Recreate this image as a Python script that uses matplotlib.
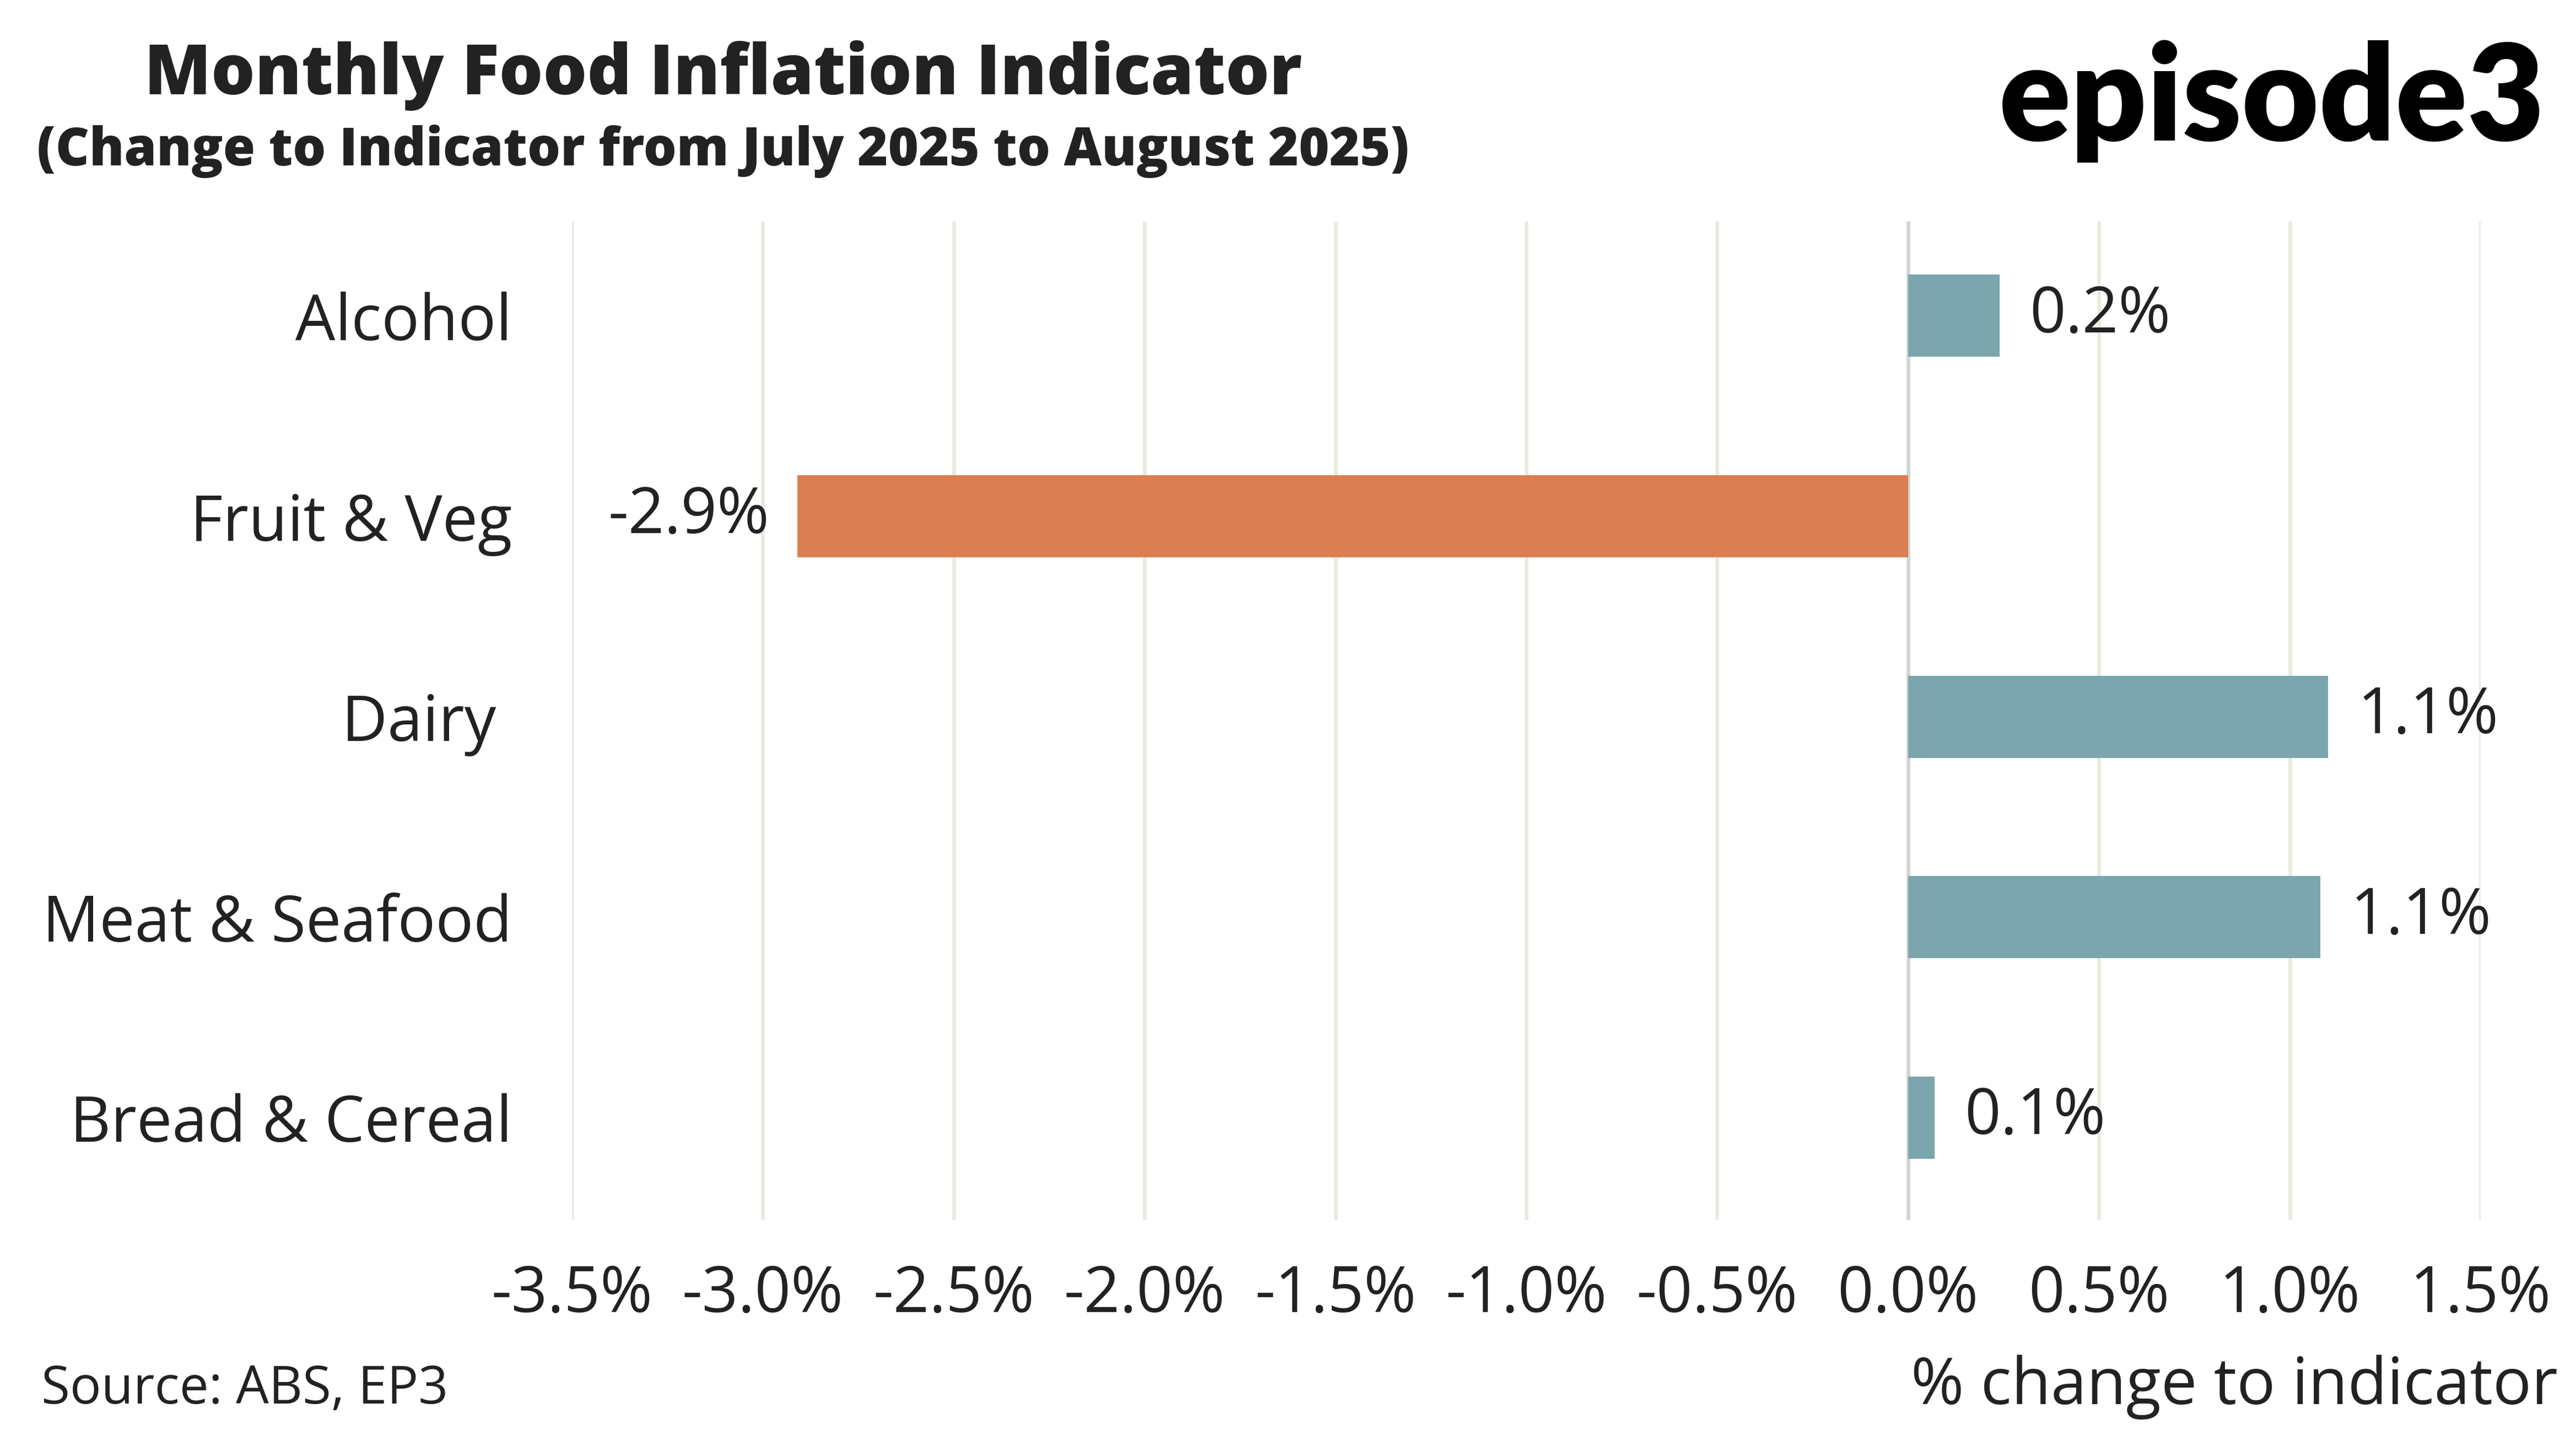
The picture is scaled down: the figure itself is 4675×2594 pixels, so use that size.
import matplotlib
matplotlib.use("Agg")
import matplotlib.pyplot as plt
import numpy as np

categories = ["Alcohol", "Fruit & Veg", "Dairy ", "Meat & Seafood", "Bread & Cereal"]
values = [0.24, -2.91, 1.10, 1.08, 0.07]
value_labels = ["0.2%", "-2.9%", "1.1%", "1.1%", "0.1%"]
xticks = [-3.5, -3.0, -2.5, -2.0, -1.5, -1.0, -0.5, 0.0, 0.5, 1.0, 1.5]
xtick_labels = ["-3.5%", "-3.0%", "-2.5%", "-2.0%", "-1.5%", "-1.0%", "-0.5%",
                "0.0%", "0.5%", "1.0%", "1.5%"]

TEAL = "#7BA6AE"
ORANGE = "#DA7F51"
TXT = "#222222"
FONT = "Open Sans"
LS = 27.5

plt.rcParams['font.family'] = [FONT, 'DejaVu Sans']

fig = plt.figure(figsize=(4675/300, 2594/300), dpi=300)
ax = fig.add_axes([0.222, 0.147, 0.741, 0.698])

y = np.arange(len(categories))
colors = [ORANGE if v < 0 else TEAL for v in values]
ax.barh(y, values, height=0.41, color=colors, zorder=3)

for yi, v, lab in zip(y, values, value_labels):
    if v >= 0:
        ax.annotate(lab, (v, yi), xytext=(13, 0), textcoords="offset points",
                    ha="left", va="center", fontsize=LS, color=TXT)
    else:
        ax.annotate(lab, (v, yi), xytext=(-12, 0), textcoords="offset points",
                    ha="right", va="center", fontsize=LS, color=TXT)

ax.set_xlim(-3.5, 1.5)
ax.set_ylim(len(categories) - 0.49, -0.47)
ax.set_xticks(xticks)
ax.set_xticklabels(xtick_labels, fontsize=LS, color=TXT)
ax.set_yticks(y)
ax.set_yticklabels(categories, fontsize=LS, color=TXT)
ax.tick_params(axis="x", length=0, pad=19)
ax.tick_params(axis="y", length=0, pad=26)
ax.grid(axis="x", color="#E9EAE0", linewidth=1.6, zorder=0)
ax.axvline(0, color="#D4D4D4", linewidth=1.6, zorder=2)
for s in ax.spines.values():
    s.set_visible(False)

fig.text(0.2807, 0.947, "Monthly Food Inflation Indicator", ha="center", va="center",
         fontsize=30.1, fontweight=800, color=TXT)
fig.text(0.2807, 0.894, "(Change to Indicator from July 2025 to August 2025)", ha="center",
         va="center", fontsize=22.7, fontweight=800, color=TXT)
fig.text(0.988, 0.929, "episode3", ha="right", va="center", fontsize=58,
         fontweight="heavy", color="black", family=["Lato", "DejaVu Sans"])
fig.text(0.016, 0.028, "Source: ABS, EP3", ha="left", va="center", fontsize=22.7, color=TXT)
fig.text(0.993, 0.030, "% change to indicator", ha="right", va="center", fontsize=28, color=TXT)

fig.savefig("out.png", dpi=300, facecolor="white")
